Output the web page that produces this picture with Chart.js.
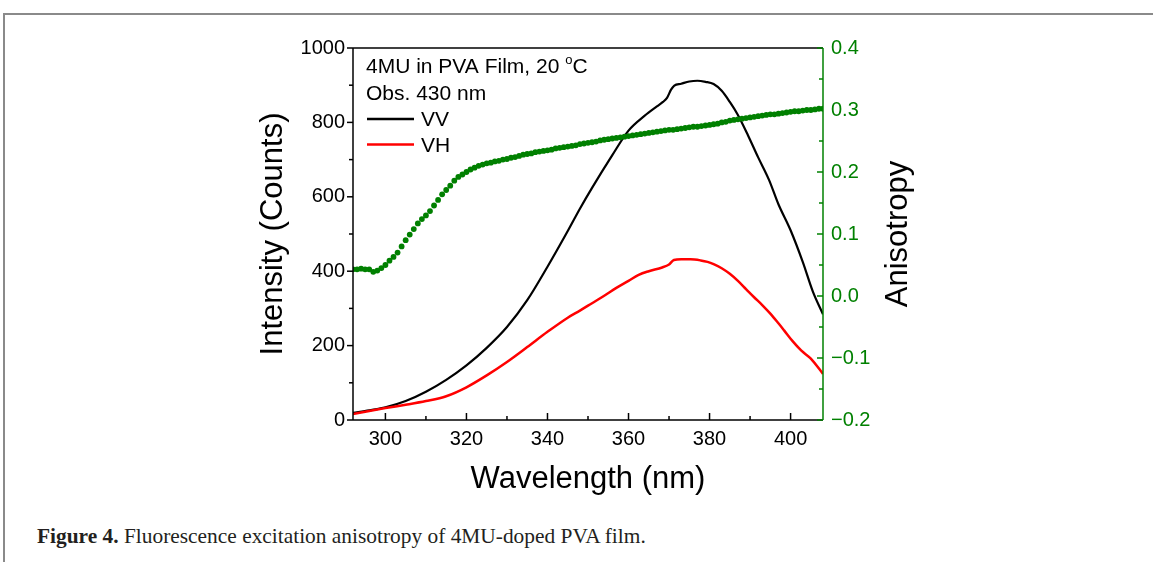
<!DOCTYPE html>
<html>
<head>
<meta charset="utf-8">
<title>4MU anisotropy</title>
<script src="https://cdn.jsdelivr.net/npm/chart.js@4"></script>
<style>
  html, body { margin: 0; padding: 0; background: #fff; }
  body { width: 1153px; height: 562px; position: relative; overflow: hidden; }
  #frame { position: absolute; left: 3px; top: 13px; width: 1200px; height: 600px;
    border-top: 2px solid #8a8a8a; border-left: 2px solid #8a8a8a; }
  #plot { position: absolute; left: 0; top: 0; }
  #caption { position: absolute; left: 37px; top: 524px; font-family: 'Liberation Serif', 'Times New Roman', serif;
    font-size: 21.4px; color: #231f20; white-space: nowrap; }
</style>
</head>
<body>
<div id="frame"></div>
<canvas id="plot" width="1153" height="500"></canvas>
<div id="caption"><b>Figure 4.</b> Fluorescence excitation anisotropy of 4MU-doped PVA film.</div>
<script>
// VV (black) and VH (red) intensity
const vvWl = [292, 296, 300, 305, 310, 315, 320, 325, 330, 335, 340, 345, 348, 351, 356, 360, 364, 367,
  368.5, 369.5, 370.5, 371.3, 373, 375, 377, 379, 381, 383, 385, 387, 389.5, 392, 394.7, 397, 400,
  403, 405.5, 408]
const vvVal = [19, 26, 34, 51, 76, 108, 147, 194, 250, 322, 412, 508, 568, 624, 712, 778, 818, 843,
  855, 866, 888, 899, 904, 910, 912, 909, 903, 885, 855, 820, 765, 706, 645, 580, 510,
  425, 345, 284]

const vhWl = [292, 296, 300, 305, 310, 315, 320, 325, 330, 335, 340, 345, 348, 351, 354, 357, 360, 362.5,
  365, 368.3, 370, 371.2, 373, 375.3, 377.8, 379.5, 381, 383, 385, 387, 389, 391, 393, 395, 397,
  398.4, 400.5, 402.6, 405, 408]
const vhVal = [16, 24, 32, 41, 51, 64, 88, 120, 156, 196, 237, 275, 294, 314, 334, 355, 374, 390,
  400, 410, 418, 430, 432, 432, 429, 425, 419, 408, 393, 374, 352, 330, 309, 286, 260,
  241, 212, 187, 165, 124]

// anisotropy (green dots, right axis)
const anisoWl = [292, 293, 294, 295, 296, 297, 298, 299, 300, 301, 302, 303, 304, 305, 306, 307, 308, 309,
  310, 311, 312, 313, 314, 315, 316, 317, 318, 319, 320, 321, 322, 323, 324, 325, 326, 327, 328, 329,
  330, 331, 332, 333, 334, 335, 336, 337, 338, 339, 340, 341, 342, 343, 344, 345, 346, 347, 348, 349,
  350, 351, 352, 353, 354, 355, 356, 357, 358, 359, 360, 361, 362, 363, 364, 365, 366, 367, 368, 369,
  370, 371, 372, 373, 374, 375, 376, 377, 378, 379, 380, 381, 382, 383, 384, 385, 386, 387, 388, 389,
  390, 391, 392, 393, 394, 395, 396, 397, 398, 399, 400, 401, 402, 403, 404, 405, 406, 407, 408]
const anisoVal = [0.043, 0.043, 0.044, 0.043, 0.043, 0.039, 0.041, 0.045, 0.050, 0.057,
  0.063, 0.070, 0.080, 0.090, 0.099, 0.108, 0.117, 0.124, 0.130, 0.137,
  0.146, 0.155, 0.164, 0.171, 0.178, 0.186, 0.192, 0.196, 0.200, 0.204,
  0.207, 0.210, 0.212, 0.214, 0.215, 0.217, 0.218, 0.220, 0.221, 0.223,
  0.224, 0.226, 0.228, 0.229, 0.230, 0.232, 0.233, 0.234, 0.235, 0.236,
  0.238, 0.239, 0.240, 0.241, 0.242, 0.243, 0.245, 0.246, 0.247, 0.248,
  0.249, 0.251, 0.252, 0.253, 0.254, 0.255, 0.256, 0.257, 0.258, 0.259,
  0.260, 0.261, 0.262, 0.263, 0.264, 0.265, 0.266, 0.267, 0.268, 0.268,
  0.269, 0.270, 0.271, 0.272, 0.273, 0.273, 0.274, 0.275, 0.276, 0.277,
  0.278, 0.280, 0.281, 0.283, 0.284, 0.285, 0.286, 0.287, 0.288, 0.289,
  0.290, 0.291, 0.292, 0.293, 0.293, 0.294, 0.295, 0.296, 0.297, 0.298,
  0.298, 0.299, 0.300, 0.300, 0.301, 0.302, 0.302]

// tick labels
const xTicks = [300, 320, 340, 360, 380, 400]
const xMinor = [310, 330, 350, 370, 390]
const yTicks = [0, 200, 400, 600, 800, 1000]
const yMinor = [100, 300, 500, 700, 900]
const y2Ticks = [-0.2, -0.1, 0, 0.1, 0.2, 0.3, 0.4]
const y2Minor = [-0.15, -0.05, 0.05, 0.15, 0.25, 0.35]

const GREEN = '#008000'
Chart.defaults.font.family = "'Liberation Sans', Arial, sans-serif"

function pts(xs, ys) {
  return xs.map((x, i) => ({ x: x, y: ys[i] }))
}

function seg(ctx, x1, y1, x2, y2) {
  ctx.beginPath()
  ctx.moveTo(x1, y1)
  ctx.lineTo(x2, y2)
  ctx.stroke()
}

// frame, tick marks, in-plot legend and right axis title
const decorations = {
  id: 'decorations',
  afterDraw(chart) {
    const { ctx, chartArea: a, scales } = chart
    ctx.save()
    ctx.lineWidth = 1.5
    ctx.strokeStyle = '#000'
    seg(ctx, a.left, a.top, a.right, a.top)
    seg(ctx, a.left, a.top, a.left, a.bottom)
    seg(ctx, a.left, a.bottom, a.right, a.bottom)
    for (const v of xTicks) { const p = scales.x.getPixelForValue(v); seg(ctx, p, a.bottom, p, a.bottom - 7) }
    for (const v of xMinor) { const p = scales.x.getPixelForValue(v); seg(ctx, p, a.bottom, p, a.bottom - 4) }
    for (const v of yTicks) { const p = scales.y.getPixelForValue(v); seg(ctx, a.left, p, a.left - 6, p) }
    for (const v of yMinor) { const p = scales.y.getPixelForValue(v); seg(ctx, a.left, p, a.left - 4, p) }
    ctx.strokeStyle = GREEN
    seg(ctx, a.right, a.top, a.right, a.bottom)
    for (const v of y2Ticks) { const p = scales.y2.getPixelForValue(v); seg(ctx, a.right, p, a.right - 6, p) }
    for (const v of y2Minor) { const p = scales.y2.getPixelForValue(v); seg(ctx, a.right, p, a.right - 4, p) }

    // annotation + legend
    ctx.fillStyle = '#000'
    ctx.textBaseline = 'alphabetic'
    ctx.textAlign = 'left'
    ctx.font = "21px 'Liberation Sans', Arial, sans-serif"
    const tx = a.left + 13
    const line1 = '4MU in PVA Film, 20 '
    ctx.fillText(line1, tx, a.top + 25)
    let w = ctx.measureText(line1).width
    ctx.font = "13px 'Liberation Sans', Arial, sans-serif"
    ctx.fillText('o', tx + w, a.top + 16)
    w += ctx.measureText('o').width
    ctx.font = "21px 'Liberation Sans', Arial, sans-serif"
    ctx.fillText('C', tx + w, a.top + 25)
    ctx.fillText('Obs. 430 nm', tx, a.top + 52)
    const items = [chart.data.datasets[1], chart.data.datasets[2]]
    items.forEach((ds, i) => {
      const ly = a.top + 71 + i * 25.5
      ctx.strokeStyle = ds.borderColor
      ctx.lineWidth = 2.5
      seg(ctx, a.left + 14, ly, a.left + 61, ly)
      ctx.fillText(ds.label, a.left + 68, ly + 7)
    })

    // right axis title, reading bottom to top
    ctx.font = "31px 'Liberation Sans', Arial, sans-serif"
    ctx.textAlign = 'center'
    ctx.textBaseline = 'middle'
    ctx.translate(898, (a.top + a.bottom) / 2)
    ctx.rotate(-Math.PI / 2)
    ctx.fillText('Anisotropy', 0, 0)
    ctx.restore()
  }
}

new Chart(document.getElementById('plot'), {
  type: 'line',
  data: {
    datasets: [
      {
        label: 'Anisotropy',
        data: pts(anisoWl, anisoVal),
        yAxisID: 'y2',
        showLine: false,
        pointRadius: 2.9,
        pointBorderWidth: 0,
        pointBackgroundColor: GREEN,
        borderColor: GREEN,
        order: 0
      },
      {
        label: 'VV',
        data: pts(vvWl, vvVal),
        yAxisID: 'y',
        borderColor: '#000000',
        borderWidth: 2.2,
        pointRadius: 0,
        cubicInterpolationMode: 'monotone',
        order: 2
      },
      {
        label: 'VH',
        data: pts(vhWl, vhVal),
        yAxisID: 'y',
        borderColor: '#ff0000',
        borderWidth: 2.5,
        pointRadius: 0,
        cubicInterpolationMode: 'monotone',
        order: 1
      }
    ]
  },
  options: {
    responsive: false,
    animation: false,
    devicePixelRatio: 1,
    layout: { padding: { top: 48, left: 0, right: 0, bottom: 0 } },
    plugins: {
      legend: { display: false },
      tooltip: { enabled: false }
    },
    scales: {
      x: {
        type: 'linear',
        min: 292,
        max: 408,
        afterBuildTicks: s => { s.ticks = xTicks.map(v => ({ value: v })) },
        afterFit: s => { s.height = 80 },
        grid: { display: false, drawTicks: false },
        border: { display: false },
        ticks: { color: '#000', font: { size: 20 }, padding: 7, maxRotation: 0, callback: v => String(v) },
        title: { display: true, text: 'Wavelength (nm)', color: '#000', font: { size: 31 }, padding: { top: 0, bottom: 2 } }
      },
      y: {
        position: 'left',
        min: 0,
        max: 1000,
        afterBuildTicks: s => { s.ticks = yTicks.map(v => ({ value: v })) },
        afterFit: s => { s.width = 353 },
        grid: { display: false, drawTicks: false },
        border: { display: false },
        ticks: { color: '#000', font: { size: 20 }, padding: 8, callback: v => String(v) },
        title: { display: true, text: 'Intensity (Counts)', color: '#000', font: { size: 31 }, padding: { top: 255, bottom: 0 } }
      },
      y2: {
        position: 'right',
        min: -0.2,
        max: 0.4,
        afterBuildTicks: s => { s.ticks = y2Ticks.map(v => ({ value: v })) },
        afterFit: s => { s.width = 330 },
        grid: { display: false, drawTicks: false },
        border: { display: false },
        ticks: {
          color: GREEN,
          font: { size: 20 },
          padding: 8,
          callback: v => (v < 0 ? '\u2212' : '') + Math.abs(v).toFixed(1)
        }
      }
    }
  },
  plugins: [decorations]
})
</script>
</body>
</html>
